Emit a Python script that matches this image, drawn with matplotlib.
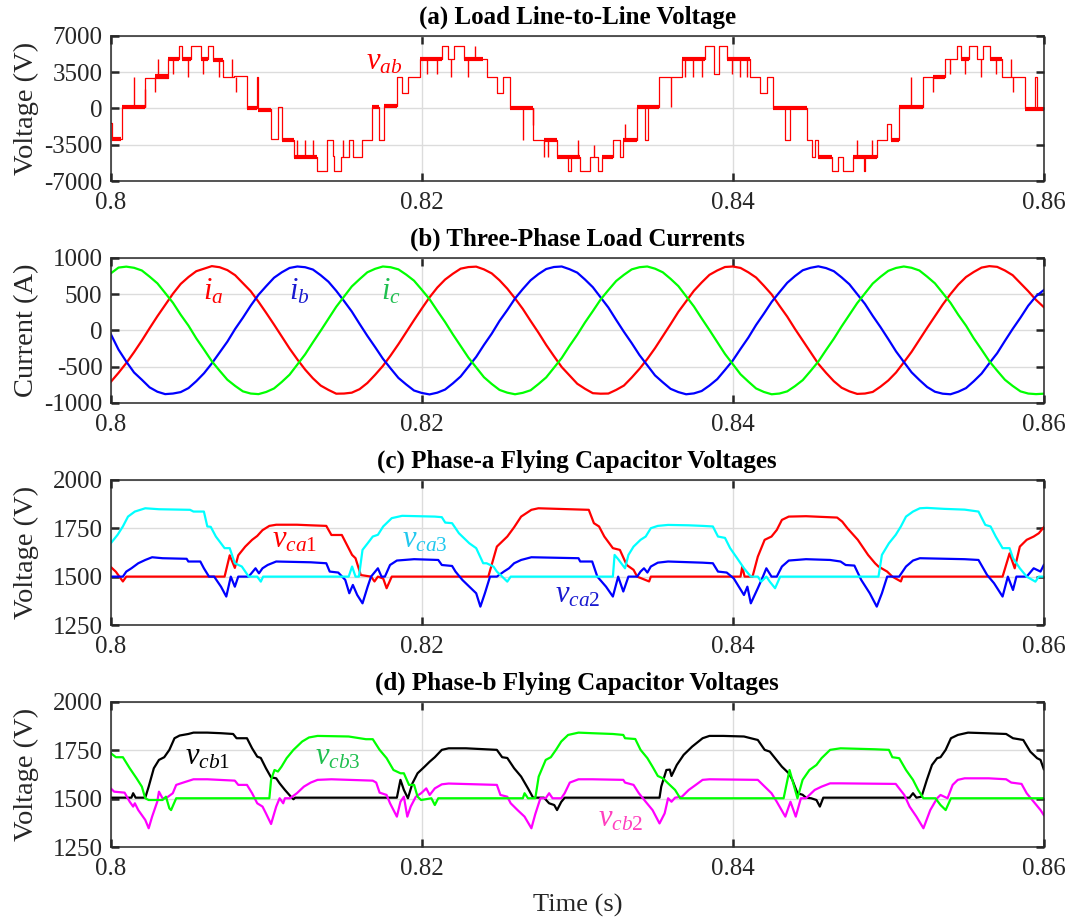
import numpy as np
import matplotlib
matplotlib.use("Agg")
import matplotlib.pyplot as plt

plt.rcParams['font.family'] = ['Liberation Serif', 'DejaVu Serif']
plt.rcParams['mathtext.fontset'] = 'custom'
plt.rcParams['mathtext.rm'] = 'Liberation Serif'
plt.rcParams['mathtext.it'] = 'Liberation Serif:italic'
plt.rcParams['axes.unicode_minus'] = False

# ---------------- data (time in ms after 0.8 s) ----------------
# (a) line-to-line voltage: staircase levels (ms, V)
vab_steps = [(0.0, -1400), (0.1, -2950), (0.7, 150), (2.23, 2950), (3.67, 4800), (4.39, 6050),
             (4.6, 4800), (5.16, 6050), (5.79, 4750), (6.28, 6050), (6.55, 4650), (7.23, 3000),
             (7.92, 3100), (8.74, 50), (9.38, 3000), (9.49, -100), (10.29, -2950), (10.78, 150),
             (11.0, -3000), (11.8, -4650), (13.25, -6050), (13.9, -3000), (14.3, -4600),
             (14.36, -6050), (14.8, -4650), (15.35, -3000), (15.6, -4650), (16.14, -3000),
             (16.83, 150), (17.28, -3000), (17.6, 250), (18.39, 3000), (18.71, 1500),
             (19.14, 3000), (19.89, 4800), (21.28, 6050), (21.71, 4800), (22.1, 6050),
             (22.72, 4750), (24.18, 3000), (24.82, 1500), (25.25, 3000), (25.68, 50),
             (27.18, -3000), (28.68, -4700), (29.4, -6050), (29.6, -4700), (30.18, -6050),
             (30.82, -4700), (31.32, -6050), (31.57, -4700), (32.32, -3000), (32.75, -4700),
             (32.97, -3000), (33.82, 150), (34.36, -3000), (34.53, 150), (35.26, 3000),
             (36.76, 4800), (38.22, 6050), (38.82, 3300), (39.12, 6050), (39.63, 4750),
             (41.11, 3000), (41.75, 1500), (42.18, 3000), (42.61, 0), (43.36, -3000),
             (43.69, 0), (44.76, -3000), (45.08, -4700), (45.29, -3000), (45.5, -4700),
             (46.36, -6050), (46.79, -4700), (47.11, -6050), (47.76, -4700), (48.44, -6050),
             (48.51, -4650), (49.26, -3000), (49.9, -1500), (50.16, -3000), (50.72, 150),
             (52.26, 3000), (53.65, 4800), (54.4, 6050), (54.66, 4800), (55.22, 6050),
             (55.73, 4800), (56.12, 6050), (56.55, 4750), (57.3, 3000), (58.8, 50),
             (59.44, 3000), (59.55, -50), (60.0, -50)]
# narrow switching spikes (ms, from V, to V)
vab_spikes = [(1.48, 150, 3000), (2.2, 150, 1900), (2.85, 1550, 3000), (3.06, 3100, 4800),
              (3.99, 3300, 4800), (4.95, 3000, 4800), (5.92, 3300, 4750), (6.99, 3000, 4650),
              (7.77, 3000, 4800), (8.03, 1550, 3000), (11.96, -4650, -3000), (12.5, -4650, -3000),
              (13.03, -4650, -3000), (14.96, -4650, -3000), (20.36, 3300, 4800),
              (20.98, 3300, 4800), (21.88, 3000, 4800), (23.0, 3000, 4750), (23.43, 4750, 6050),
              (26.5, -3000, 50), (27.14, -1600, 50), (27.87, -4700, -3000), (28.14, -4700, -3000),
              (30.03, -4700, -3000), (31.05, -4700, -3500), (33.07, -3000, -1500),
              (36.01, 100, 3000), (36.93, 3000, 4800), (37.47, 3000, 4800), (38.0, 3000, 4800),
              (39.98, 3300, 4750), (40.47, 3000, 4750), (40.9, 3000, 4750),
              (47.97, -4700, -3000), (48.94, -4650, -3000), (51.44, 150, 3000),
              (52.9, 1550, 3000), (53.97, 3300, 4800), (54.94, 3300, 4800), (55.95, 3000, 4800),
              (56.93, 3300, 4750), (57.87, 3000, 4800), (58.05, 1550, 3000)]
# dense PWM chatter bands (ms start, ms end, V)
vab_bands = [(0.1, 0.66, -2950), (0.7, 2.23, 150), (2.85, 3.67, 3150), (3.67, 4.39, 4800),
             (4.6, 5.16, 4800), (5.79, 6.28, 4750), (6.55, 7.23, 4650), (8.74, 9.38, 50),
             (9.49, 10.29, -120), (11.0, 11.8, -3000), (11.8, 13.25, -4650), (16.83, 17.28, 150),
             (17.6, 18.39, 200), (19.89, 21.28, 4800), (22.72, 23.96, 4750), (25.68, 27.18, 50),
             (27.87, 28.68, -3000), (28.68, 30.18, -4700), (31.57, 32.32, -4700),
             (32.97, 33.82, -3000), (33.82, 35.26, 100), (36.76, 38.22, 4800),
             (39.63, 41.11, 4750), (42.61, 44.76, 0), (45.5, 46.36, -4700),
             (47.76, 49.26, -4650), (50.16, 50.72, -3000), (50.72, 52.26, 150),
             (52.9, 53.65, 3000), (54.66, 55.22, 4800), (56.55, 57.3, 4750), (58.8, 60.0, -50)]

# (b) load currents, sampled every 0.5 ms from 0.8 s to 0.86 s
ia = [-710, -585, -450, -300, -140, 30, 195, 350, 505, 640, 735, 815, 850, 885, 870, 830,
      760, 650, 540, 395, 240, 80, -85, -250, -400, -540, -660, -760, -820, -872, -870,
      -858, -810, -725, -612, -490, -345, -190, -25, 140, 300, 455, 590, 700, 780, 850,
      872, 878, 840, 785, 690, 575, 440, 295, 130, -30, -200, -355, -505, -620, -735,
      -805, -865, -872, -870, -820, -760, -650, -530, -395, -245, -80, 85, 255, 400, 545,
      660, 765, 825, 873, 880, 860, 800, 728, 615, 495, 340, 190, 20, -140, -300, -460,
      -585, -700, -790, -840, -875, -870, -848, -775, -690, -580, -440, -295, -130, 35,
      195, 355, 500, 630, 735, 805, 865, 885, 875, 825, 760, 650, 540, 420, 320]
ib = [-50, -265, -430, -580, -680, -785, -845, -878, -870, -850, -795, -700, -590, -455,
      -305, -155, 20, 175, 340, 490, 610, 725, 800, 860, 880, 870, 838, 760, 670, 545,
      405, 260, 90, -75, -230, -390, -525, -655, -745, -828, -862, -882, -858, -815, -730,
      -635, -500, -365, -200, -45, 130, 280, 440, 570, 690, 775, 845, 873, 880, 843, 795,
      700, 595, 455, 315, 145, -20, -175, -340, -480, -620, -715, -805, -850, -880, -868,
      -835, -760, -672, -545, -415, -255, -100, 75, 230, 392, 525, 655, 748, 828, 862, 882,
      858, 815, 730, 635, 500, 365, 200, 45, -120, -290, -435, -578, -683, -780, -845,
      -872, -880, -845, -795, -700, -595, -452, -315, -145, 20, 175, 340, 470, 555]
ic = [785, 865, 878, 862, 825, 740, 648, 515, 380, 215, 65, -110, -265, -425, -555, -680,
      -765, -840, -870, -878, -848, -800, -710, -610, -470, -330, -165, -5, 160, 325, 465,
      605, 705, 800, 848, 880, 870, 840, 768, 685, 560, 430, 270, 115, -55, -215, -375,
      -510, -645, -738, -820, -858, -880, -860, -825, -740, -648, -515, -380, -215, -60,
      110, 265, 425, 555, 680, 765, 840, 870, 880, 850, 800, 710, 610, 470, 330, 165, 5,
      -160, -325, -465, -605, -705, -800, -848, -880, -870, -840, -768, -685, -560, -430,
      -270, -115, 55, 215, 375, 510, 645, 738, 820, 860, 880, 862, 825, 740, 648, 515,
      380, 215, 65, -110, -265, -425, -555, -680, -765, -840, -870, -878, -872]

# (c) phase-a flying capacitor voltages (ms, V)
vca1 = [(0, 1550), (0.33, 1525), (0.78, 1475), (1.0, 1500), (7.32, 1500), (7.65, 1610),
        (7.98, 1545), (8.2, 1610), (8.65, 1655), (9.09, 1690), (9.42, 1710), (9.76, 1740),
        (10.2, 1762), (10.64, 1768), (11.97, 1768), (12.86, 1765), (13.86, 1762),
        (14.19, 1715), (14.86, 1715), (15.52, 1612), (15.74, 1595), (16.08, 1508),
        (16.74, 1500), (16.96, 1475), (17.18, 1500), (17.52, 1490), (17.74, 1440),
        (18.07, 1500), (24.28, 1500), (24.83, 1655), (25.5, 1707), (25.94, 1755),
        (26.39, 1810), (27.05, 1845), (27.5, 1853), (30.74, 1845), (31.07, 1776),
        (31.4, 1759), (31.74, 1707), (32.29, 1647), (32.74, 1638), (33.18, 1560),
        (33.62, 1535), (33.85, 1500), (34.62, 1475), (34.73, 1500), (40.5, 1500),
        (40.61, 1552), (40.76, 1500), (41.27, 1500), (41.61, 1603), (42.05, 1690),
        (42.49, 1707), (42.83, 1741), (43.16, 1793), (43.6, 1810), (44.71, 1812),
        (46.71, 1805), (47.04, 1784), (47.37, 1750), (48.04, 1690), (48.7, 1612),
        (49.15, 1569), (49.37, 1552), (49.93, 1526), (50.26, 1500), (50.81, 1475),
        (50.92, 1500), (57.35, 1500), (57.8, 1620), (58.13, 1543), (58.46, 1655),
        (58.9, 1690), (59.35, 1707), (59.68, 1724), (60.0, 1755)]
vca2 = [(0, 1500), (0.78, 1500), (1.0, 1526), (1.33, 1543), (1.77, 1569), (2.22, 1586),
        (2.66, 1600), (3.33, 1595), (4.88, 1592), (4.99, 1578), (5.76, 1578), (5.99, 1543),
        (6.32, 1500), (6.65, 1500), (7.09, 1448), (7.43, 1397), (7.72, 1500), (7.98, 1448),
        (8.2, 1500), (8.87, 1500), (9.31, 1543), (9.53, 1517), (9.76, 1543), (10.09, 1560),
        (10.64, 1578), (12.86, 1574), (13.86, 1569), (14.08, 1526), (14.63, 1521),
        (15.08, 1483), (15.34, 1414), (15.57, 1457), (15.85, 1405), (16.19, 1362),
        (16.52, 1448), (16.74, 1500), (17.18, 1543), (17.41, 1500), (17.63, 1500),
        (17.96, 1560), (18.4, 1583), (19.51, 1590), (21.06, 1586), (21.29, 1560),
        (21.95, 1555), (22.17, 1526), (22.61, 1483), (23.06, 1448), (23.5, 1414),
        (23.77, 1345), (24.06, 1414), (24.39, 1500), (24.83, 1500), (25.28, 1526),
        (25.61, 1543), (25.94, 1569), (26.39, 1586), (27.05, 1600), (30.08, 1595),
        (30.19, 1578), (30.96, 1578), (31.29, 1500), (31.85, 1448), (32.29, 1397),
        (32.63, 1500), (32.96, 1423), (33.29, 1500), (33.85, 1500), (34.07, 1526),
        (34.29, 1543), (34.51, 1521), (34.73, 1552), (35.18, 1572), (35.84, 1578),
        (38.06, 1572), (38.72, 1569), (39.05, 1526), (39.61, 1521), (40.06, 1491),
        (40.39, 1448), (40.72, 1405), (40.94, 1448), (41.16, 1362), (41.61, 1440),
        (41.94, 1500), (42.16, 1543), (42.49, 1500), (42.83, 1500), (43.16, 1552),
        (43.6, 1583), (44.71, 1590), (46.26, 1586), (46.93, 1578), (47.26, 1560),
        (47.82, 1557), (48.26, 1483), (48.81, 1414), (49.26, 1345), (49.59, 1414),
        (49.93, 1500), (50.7, 1500), (51.14, 1552), (51.59, 1583), (52.03, 1595),
        (54.91, 1590), (55.8, 1586), (56.35, 1509), (56.8, 1466), (57.35, 1397),
        (57.69, 1500), (58.02, 1431), (58.24, 1500), (58.9, 1500), (59.35, 1543),
        (59.79, 1526), (60.0, 1560)]
vca3 = [(0, 1672), (0.44, 1716), (0.78, 1759), (1.11, 1810), (1.55, 1836), (2.22, 1853),
        (3.1, 1848), (5.1, 1845), (5.32, 1836), (5.99, 1836), (6.21, 1759), (6.43, 1757),
        (6.76, 1707), (7.32, 1647), (7.65, 1647), (7.98, 1569), (8.43, 1552), (8.87, 1500),
        (9.42, 1500), (9.65, 1474), (9.8, 1500), (15.3, 1500), (15.52, 1552), (15.74, 1500),
        (15.96, 1500), (16.19, 1638), (16.52, 1672), (16.85, 1707), (17.18, 1716),
        (17.52, 1759), (18.07, 1802), (18.74, 1814), (20.84, 1810), (21.29, 1807),
        (21.51, 1779), (21.95, 1776), (22.39, 1724), (23.06, 1672), (23.5, 1647),
        (23.95, 1569), (24.17, 1569), (24.61, 1552), (24.83, 1526), (25.17, 1500),
        (25.5, 1474), (25.72, 1500), (32.29, 1500), (32.4, 1612), (32.63, 1590),
        (33.07, 1543), (33.29, 1612), (33.62, 1655), (34.07, 1690), (34.4, 1707),
        (34.73, 1750), (35.18, 1762), (35.84, 1767), (37.17, 1765), (38.06, 1762),
        (38.72, 1759), (39.05, 1707), (39.5, 1700), (39.83, 1647), (40.28, 1595),
        (40.72, 1543), (41.16, 1500), (41.61, 1500), (41.83, 1474), (42.16, 1500),
        (42.38, 1474), (42.72, 1440), (43.05, 1500), (49.37, 1500), (49.59, 1612),
        (50.04, 1672), (50.48, 1716), (50.81, 1759), (51.14, 1810), (51.59, 1836),
        (52.03, 1853), (52.48, 1855), (53.58, 1850), (54.91, 1846), (55.8, 1836),
        (56.24, 1767), (56.58, 1759), (56.91, 1707), (57.35, 1647), (57.8, 1647),
        (58.02, 1595), (58.46, 1543), (58.9, 1500), (59.46, 1474), (59.68, 1500),
        (60.0, 1500)]

# (d) phase-b flying capacitor voltages (ms, V)
vcb1 = [(0, 1505), (1.33, 1505), (1.44, 1528), (1.6, 1505), (2.22, 1505), (2.44, 1562),
        (2.77, 1657), (3.1, 1700), (3.44, 1714), (3.77, 1752), (4.1, 1812), (4.43, 1826),
        (4.99, 1834), (5.32, 1841), (6.21, 1841), (7.09, 1838), (7.87, 1834), (8.09, 1812),
        (8.76, 1812), (9.09, 1760), (9.42, 1717), (9.65, 1710), (9.98, 1657), (10.31, 1610),
        (10.64, 1605), (10.86, 1579), (11.2, 1545), (11.64, 1505), (11.75, 1497),
        (11.86, 1505), (18.4, 1505), (18.63, 1597), (18.85, 1545), (19.11, 1502),
        (19.4, 1579), (19.73, 1631), (20.18, 1665), (20.51, 1691), (20.84, 1714),
        (21.29, 1752), (21.73, 1760), (22.84, 1760), (24.83, 1752), (25.17, 1714),
        (25.5, 1710), (25.94, 1657), (26.39, 1614), (26.83, 1553), (27.16, 1505),
        (27.86, 1505), (28.19, 1476), (28.52, 1467), (28.7, 1441), (28.97, 1483),
        (29.19, 1505), (35.29, 1505), (35.4, 1562), (35.73, 1648), (35.95, 1650),
        (36.06, 1617), (36.4, 1674), (36.84, 1726), (37.39, 1769), (38.06, 1812),
        (38.5, 1824), (39.39, 1824), (40.72, 1821), (41.16, 1812), (41.61, 1803),
        (42.05, 1752), (42.38, 1743), (42.72, 1709), (43.16, 1665), (43.6, 1631),
        (43.83, 1597), (44.16, 1528), (44.49, 1520), (44.71, 1505), (45.04, 1502),
        (45.38, 1493), (45.6, 1459), (45.82, 1505), (51.37, 1505), (51.59, 1528),
        (51.81, 1505), (52.14, 1510), (52.48, 1597), (52.81, 1674), (53.14, 1709),
        (53.36, 1714), (53.69, 1752), (54.03, 1812), (54.47, 1829), (55.13, 1841),
        (56.24, 1838), (57.58, 1834), (58.02, 1812), (58.68, 1803), (59.13, 1743),
        (59.57, 1709), (59.79, 1700), (60.0, 1652)]
vcb2 = [(0, 1553), (0.22, 1536), (0.89, 1531), (1.22, 1484), (1.44, 1459), (1.55, 1476),
        (1.77, 1441), (2.22, 1390), (2.44, 1347), (2.66, 1407), (2.99, 1484), (3.1, 1536),
        (3.33, 1502), (3.55, 1502), (3.99, 1528), (4.21, 1571), (4.66, 1583), (5.32, 1600),
        (6.21, 1600), (7.98, 1593), (8.2, 1571), (8.76, 1571), (9.09, 1528), (9.42, 1476),
        (9.76, 1459), (9.98, 1424), (10.31, 1369), (10.64, 1459), (10.86, 1502),
        (11.09, 1476), (11.2, 1502), (11.53, 1502), (11.97, 1528), (12.42, 1562),
        (12.86, 1583), (13.3, 1597), (14.19, 1600), (16.85, 1593), (17.07, 1583),
        (17.29, 1531), (17.74, 1519), (17.96, 1476), (18.4, 1407), (18.63, 1484),
        (18.85, 1510), (19.07, 1407), (19.29, 1459), (19.62, 1510), (19.96, 1528),
        (20.29, 1553), (20.51, 1519), (20.84, 1553), (21.29, 1574), (21.73, 1578),
        (24.83, 1571), (25.06, 1519), (25.5, 1510), (25.72, 1476), (26.16, 1441),
        (26.61, 1407), (27.05, 1347), (27.3, 1420), (27.63, 1502), (27.97, 1502),
        (28.19, 1528), (28.41, 1502), (28.97, 1502), (29.19, 1528), (29.52, 1583),
        (30.08, 1600), (30.96, 1600), (32.96, 1597), (33.07, 1583), (33.62, 1571),
        (33.96, 1528), (34.4, 1484), (34.84, 1441), (35.29, 1372), (35.62, 1424),
        (35.84, 1502), (36.06, 1484), (36.29, 1505), (36.73, 1510), (37.17, 1545),
        (37.62, 1571), (38.06, 1597), (38.5, 1600), (41.61, 1597), (41.94, 1571),
        (42.49, 1528), (42.83, 1484), (43.38, 1407), (43.71, 1484), (44.05, 1407),
        (44.38, 1502), (44.71, 1502), (44.93, 1519), (45.27, 1545), (45.71, 1562),
        (46.26, 1579), (46.93, 1579), (50.48, 1576), (50.7, 1553), (51.03, 1519),
        (51.37, 1459), (51.81, 1407), (52.26, 1347), (52.7, 1441), (53.14, 1502),
        (53.36, 1519), (53.81, 1502), (54.14, 1571), (54.47, 1597), (54.91, 1605),
        (56.46, 1605), (57.58, 1600), (57.91, 1583), (58.57, 1576), (58.9, 1528),
        (59.35, 1484), (59.79, 1441), (60.0, 1415)]
vcb3 = [(0, 1735), (0.33, 1714), (0.78, 1714), (1.22, 1657), (1.66, 1605), (2.0, 1562),
        (2.22, 1502), (2.44, 1493), (3.33, 1493), (3.55, 1510), (3.77, 1450), (3.88, 1441),
        (4.21, 1502), (10.2, 1502), (10.31, 1597), (10.53, 1648), (10.75, 1640),
        (10.98, 1665), (11.31, 1709), (11.75, 1752), (12.31, 1795), (12.75, 1816),
        (13.3, 1824), (15.3, 1821), (16.41, 1807), (16.85, 1807), (17.29, 1752),
        (17.74, 1709), (18.18, 1648), (18.63, 1631), (18.85, 1631), (19.18, 1571),
        (19.51, 1571), (19.73, 1510), (19.96, 1493), (20.62, 1502), (20.84, 1467),
        (21.06, 1502), (26.5, 1502), (26.61, 1528), (26.83, 1502), (27.3, 1502),
        (27.52, 1614), (27.97, 1700), (28.3, 1714), (28.63, 1752), (28.97, 1795),
        (29.41, 1829), (30.08, 1841), (30.96, 1838), (32.29, 1834), (32.96, 1829),
        (33.07, 1812), (33.73, 1808), (34.07, 1752), (34.51, 1709), (34.84, 1665),
        (35.18, 1617), (35.51, 1605), (35.84, 1579), (36.29, 1545), (36.62, 1502),
        (43.27, 1502), (43.65, 1648), (44.16, 1502), (44.49, 1597), (44.93, 1648),
        (45.38, 1674), (45.71, 1709), (46.26, 1752), (46.93, 1760), (49.15, 1755),
        (50.04, 1752), (50.26, 1714), (50.7, 1709), (51.14, 1648), (51.59, 1597),
        (51.92, 1545), (52.26, 1502), (53.03, 1502), (53.36, 1467), (53.69, 1441),
        (54.03, 1502), (60.0, 1502)]


def sec(pairs):
    ms, v = zip(*pairs)
    return 0.8 + np.array(ms) / 1000.0, np.array(v)


fig = plt.figure(figsize=(10.7, 9.19), dpi=100)
L, W, H = 0.1035, 0.872, 0.158
bottoms = [0.803, 0.5615, 0.3199, 0.0783]
axs = [fig.add_axes([L, b, W, H]) for b in bottoms]


def style(ax, yticks, title, ylabel):
    ax.set_xlim(0.8, 0.86)
    ax.set_ylim(yticks[0], yticks[-1])
    ax.set_xticks([0.8, 0.82, 0.84, 0.86])
    ax.set_xticklabels(['0.8', '0.82', '0.84', '0.86'])
    ax.set_yticks(yticks)
    ax.grid(True, color='#dcdcdc', lw=1.0)
    ax.set_axisbelow(True)
    ax.tick_params(direction='in', length=6, width=1.8, top=True, right=True,
                   labelsize=18, pad=8, colors='#262626')
    ax.tick_params(axis='y', pad=6)
    for s in ax.spines.values():
        s.set_linewidth(1.1)
        s.set_color('#262626')
    ax.set_title(title, fontsize=18, fontweight='bold', pad=9)
    ax.set_ylabel(ylabel, fontsize=20.5, color='#262626')
    ax.yaxis.set_label_coords(-0.077, 0.5)


# (a)
ax = axs[0]
t, v = sec(vab_steps)
ax.step(t, v, where='post', color='red', lw=0.9)
st = 0.8 + np.array([s[0] for s in vab_spikes]) / 1000.0
ax.vlines(st, [s[1] for s in vab_spikes], [s[2] for s in vab_spikes], color='red', lw=1.0)
bt0 = 0.8 + np.array([b[0] for b in vab_bands]) / 1000.0
bt1 = 0.8 + np.array([b[1] for b in vab_bands]) / 1000.0
ax.hlines([b[2] for b in vab_bands], bt0, bt1, color='red', lw=3.0)
style(ax, [-7000, -3500, 0, 3500, 7000], '(a) Load Line-to-Line Voltage', 'Voltage (V)')
ax.text(0.8176, 4440, r'$v_{\mathit{ab}}$', color='red', fontsize=22, ha='center', va='center')

# (b)
ax = axs[1]
t_cur = np.linspace(0.8, 0.86, len(ia))
ax.plot(t_cur, ia, color='#ff0000', lw=1.6)
ax.plot(t_cur, ib, color='#0000ff', lw=1.6)
ax.plot(t_cur, ic, color='#00ff00', lw=1.6)
style(ax, [-1000, -500, 0, 500, 1000], '(b) Three-Phase Load Currents', 'Current (A)')
ax.text(0.8066, 530, r'$i_{a}$', color='#ff0000', fontsize=22, ha='center', va='center')
ax.text(0.8121, 530, r'$i_{b}$', color='#1a1ad0', fontsize=22, ha='center', va='center')
ax.text(0.8180, 530, r'$i_{c}$', color='#1fbf4f', fontsize=22, ha='center', va='center')

# (c)
ax = axs[2]
for d, c in [(vca1, '#ff0000'), (vca2, '#0000ff'), (vca3, '#00ffff')]:
    t, v = sec(d)
    ax.plot(t, v, color=c, lw=1.6)
style(ax, [1250, 1500, 1750, 2000], '(c) Phase-a Flying Capacitor Voltages', 'Voltage (V)')
ax.text(0.81185, 1690, r'$v_{\mathit{ca1}}$', color='#ff0000', fontsize=22, ha='center', va='center')
ax.text(0.8202, 1690, r'$v_{\mathit{ca3}}$', color='#22c8ee', fontsize=22, ha='center', va='center')
ax.text(0.8300, 1405, r'$v_{\mathit{ca2}}$', color='#1a1ad0', fontsize=22, ha='center', va='center')

# (d)
ax = axs[3]
for d, c in [(vcb1, '#000000'), (vcb2, '#ff00ff'), (vcb3, '#00ff00')]:
    t, v = sec(d)
    ax.plot(t, v, color=c, lw=1.6)
style(ax, [1250, 1500, 1750, 2000], '(d) Phase-b Flying Capacitor Voltages', 'Voltage (V)')
ax.text(0.8062, 1716, r'$v_{\mathit{cb1}}$', color='#000000', fontsize=22, ha='center', va='center')
ax.text(0.81457, 1716, r'$v_{\mathit{cb3}}$', color='#1fbf4f', fontsize=22, ha='center', va='center')
ax.text(0.8328, 1395, r'$v_{\mathit{cb2}}$', color='#ff3fbf', fontsize=22, ha='center', va='center')
ax.set_xlabel('Time (s)', fontsize=19, labelpad=10, color='#262626')

fig.savefig('out.png', dpi=100)
